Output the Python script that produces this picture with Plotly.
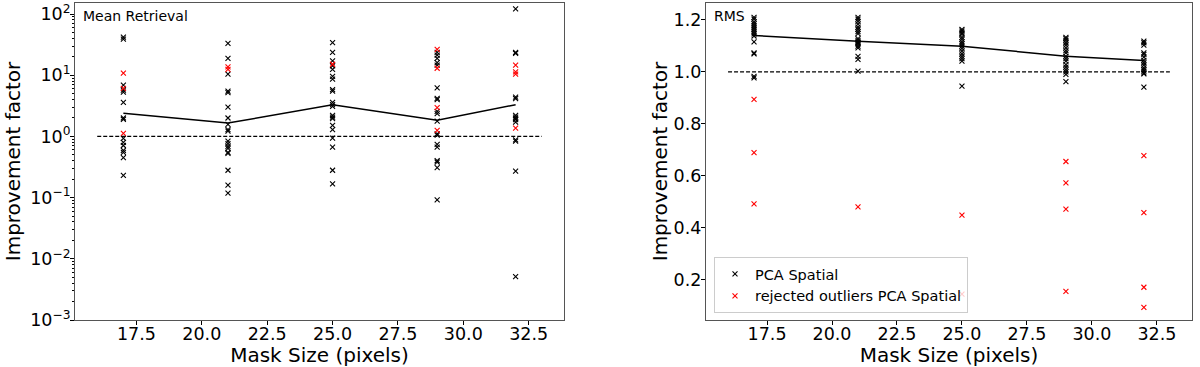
import plotly.graph_objects as go

# -------------------------------------------------------------------
# Data
# -------------------------------------------------------------------
mask_sizes = [17, 21, 25, 29, 32]
ref_x = [16, 33]
ref_y = [1.0, 1.0]

# --- Mean Retrieval (log axis) ---
mean_pca_17 = [42, 39, 6.9, 5.7, 5.3, 3.6, 2.0, 1.9, 0.93, 0.8, 0.71, 0.59, 0.55, 0.45, 0.23]
mean_pca_21 = [33, 18.8, 10.4, 5.5, 5.2, 3.0, 2.0, 1.57, 1.29, 1.22, 0.84, 0.76, 0.69, 0.64,
               0.55, 0.53, 0.28, 0.16, 0.118]
mean_pca_25 = [34, 23.6, 17.2, 14.2, 12.5, 9.6, 8.6, 5.8, 5.5, 3.6, 3.3, 3.1, 2.2, 2.07, 1.95,
               1.51, 1.29, 0.94, 0.67, 0.28, 0.168]
mean_pca_29 = [23.6, 21.3, 18.8, 16.1, 14.6, 6.2, 4.2, 4.0, 2.57, 2.35, 1.78, 1.1, 1.05, 0.74,
               0.67, 0.40, 0.38, 0.31, 0.092]
mean_pca_32 = [121, 23.5, 22.8, 4.4, 4.15, 2.2, 2.07, 1.95, 1.88, 1.71, 0.88, 0.84, 0.27, 0.0051]

mean_rej_17 = [10.8, 6.1, 1.12]
mean_rej_21 = [13.7, 12.5]
mean_rej_25 = [15.1]
mean_rej_29 = [26.4, 13.0, 2.95, 1.25]
mean_rej_32 = [14.6, 11.3, 10.4, 1.37]

mean_avg = [2.38, 1.65, 3.3, 1.83, 3.3]

# --- RMS (linear axis) ---
rms_pca_17 = [1.21, 1.203, 1.192, 1.185, 1.177, 1.169, 1.162, 1.154, 1.146, 1.138, 1.115,
              1.073, 1.069, 0.983, 0.977]
rms_pca_21 = [1.21, 1.203, 1.194, 1.184, 1.172, 1.164, 1.155, 1.147, 1.128, 1.121, 1.115,
              1.112, 1.108, 1.099, 1.092, 1.06, 1.048, 1.003]
rms_pca_25 = [1.163, 1.157, 1.15, 1.144, 1.133, 1.125, 1.115, 1.108, 1.099, 1.09, 1.08,
              1.069, 1.06, 1.051, 1.041, 0.945]
rms_pca_29 = [1.133, 1.128, 1.121, 1.112, 1.103, 1.092, 1.082, 1.073, 1.06, 1.051, 1.041,
              1.028, 1.018, 1.009, 1.0, 0.99, 0.962]
rms_pca_32 = [1.118, 1.112, 1.103, 1.073, 1.067, 1.057, 1.044, 1.035, 1.026, 1.015, 1.009,
              1.003, 0.996, 0.992, 0.941]

rms_rej_17 = [0.894, 0.689, 0.492]
rms_rej_21 = [0.48]
rms_rej_25 = [0.449, 0.145]
rms_rej_29 = [0.655, 0.573, 0.472, 0.155]
rms_rej_32 = [0.678, 0.458, 0.171, 0.094]

rms_avg = [1.14, 1.118, 1.099, 1.06, 1.044]

log_ticks = [-3, -2, -1, 0, 1, 2]


def flatten(cols):
    xs, ys = [], []
    for m, vals in zip(mask_sizes, cols):
        xs += [m] * len(vals)
        ys += vals
    return xs, ys


FONT = "DejaVu Sans"
marker_black = dict(symbol="x-thin", size=5, color="black", line=dict(width=1.1, color="black"))
marker_red = dict(symbol="x-thin", size=5, color="red", line=dict(width=1.1, color="red"))

fig = go.Figure()

# --- left panel ---
x, y = flatten([mean_pca_17, mean_pca_21, mean_pca_25, mean_pca_29, mean_pca_32])
fig.add_scatter(x=x, y=y, mode="markers", marker=marker_black, showlegend=False,
                xaxis="x", yaxis="y")
x, y = flatten([mean_rej_17, mean_rej_21, mean_rej_25, mean_rej_29, mean_rej_32])
fig.add_scatter(x=x, y=y, mode="markers", marker=marker_red, showlegend=False,
                xaxis="x", yaxis="y")
fig.add_scatter(x=mask_sizes, y=mean_avg, mode="lines", line=dict(color="black", width=1.5),
                showlegend=False, xaxis="x", yaxis="y")
fig.add_scatter(x=ref_x, y=ref_y, mode="lines", line=dict(color="black", width=1.2, dash="4px,2px"),
                showlegend=False, xaxis="x", yaxis="y")

# --- right panel ---
x, y = flatten([rms_pca_17, rms_pca_21, rms_pca_25, rms_pca_29, rms_pca_32])
fig.add_scatter(x=x, y=y, mode="markers", marker=marker_black, name="PCA Spatial",
                xaxis="x2", yaxis="y2")
x, y = flatten([rms_rej_17, rms_rej_21, rms_rej_25, rms_rej_29, rms_rej_32])
fig.add_scatter(x=x, y=y, mode="markers", marker=marker_red, name="rejected outliers PCA Spatial",
                xaxis="x2", yaxis="y2")
fig.add_scatter(x=mask_sizes, y=rms_avg, mode="lines", line=dict(color="black", width=1.5),
                showlegend=False, xaxis="x2", yaxis="y2")
fig.add_scatter(x=ref_x, y=ref_y, mode="lines", line=dict(color="black", width=1.2, dash="4px,2px"),
                showlegend=False, xaxis="x2", yaxis="y2")

axis_common = dict(showline=True, linecolor="#555", linewidth=1, mirror=True, automargin=False,
                   ticks="outside", ticklen=4, tickcolor="black", showgrid=False, zeroline=False,
                   ticklabelposition="outside",
                   tickfont=dict(family=FONT, size=17.5, color="black"))
xaxis_common = dict(axis_common, range=[15.15, 33.85], tick0=0, dtick=2.5, tickformat=".1f",
                    ticklabelstandoff=-6,
                    title=dict(text="Mask Size (pixels)", font=dict(family=FONT, size=20, color="black"),
                               standoff=0))

minor_vals = [m * 10 ** e for e in range(-3, 3) for m in range(2, 10)]

fig.update_layout(
    width=1200, height=367,
    margin=dict(l=0, r=0, t=3, b=47),
    plot_bgcolor="white", paper_bgcolor="white",
    xaxis=dict(xaxis_common, domain=[0.0625, 0.47], anchor="y"),
    xaxis2=dict(xaxis_common, domain=[0.5883, 0.9933], anchor="y2"),
    yaxis=dict(axis_common, type="log", range=[-3.0, 2.18], anchor="x",
               tickvals=[10 ** e for e in log_ticks],
               ticktext=[f"10<sup>{e}</sup>".replace("-", "\u2212") for e in log_ticks],
               ticklabelstandoff=-4,
               minor=dict(ticks="outside", ticklen=2, tickcolor="black", tickvals=minor_vals),
               title=dict(text="Improvement factor", font=dict(family=FONT, size=20, color="black"),
                          standoff=4)),
    yaxis2=dict(axis_common, range=[0.045, 1.265], dtick=0.2, tick0=0, tickformat=".1f", anchor="x2",
                ticklabelstandoff=-4,
                title=dict(text="Improvement factor", font=dict(family=FONT, size=20, color="black"),
                           standoff=0)),
    legend=dict(x=0.595, y=0.022, xanchor="left", yanchor="bottom",
                bgcolor="rgba(255,255,255,0.8)", bordercolor="#ccc", borderwidth=1,
                font=dict(family=FONT, size=14.5, color="black"), tracegroupgap=0),
    annotations=[
        dict(text="Mean Retrieval", xref="x domain", yref="y domain", x=0.012, y=0.99,
             xanchor="left", yanchor="top", showarrow=False,
             font=dict(family=FONT, size=14, color="black")),
        dict(text="RMS", xref="x2 domain", yref="y2 domain", x=0.012, y=0.99,
             xanchor="left", yanchor="top", showarrow=False,
             font=dict(family=FONT, size=14, color="black")),
    ],
)

# drop the browser's default 8px body margin so the figure sits at the page corner
fig.write_html("out.html", config={"displayModeBar": False},
               post_script="document.body.style.margin = '0';")
